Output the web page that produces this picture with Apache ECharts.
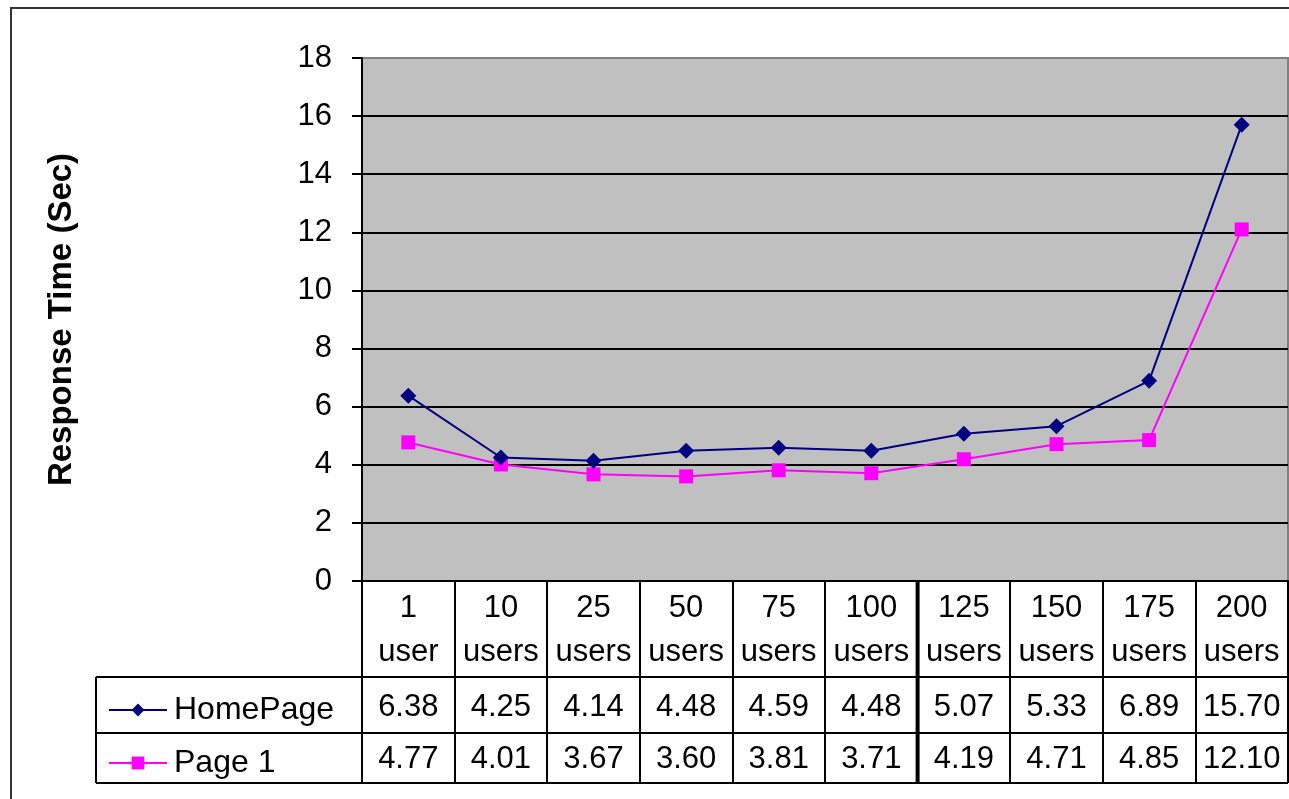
<!DOCTYPE html>
<html>
<head>
<meta charset="utf-8">
<title>Response Time</title>
<script src="https://cdn.jsdelivr.net/npm/echarts@6/dist/echarts.min.js"></script>
<style>
  html, body { margin: 0; padding: 0; background: #fff; }
  #chart { width: 1289px; height: 799px; }
</style>
</head>
<body>
<div id="chart"></div>
<script>
// Load levels (concurrent users)
const categories = ['1 user', '10 users', '25 users', '50 users', '75 users',
                    '100 users', '125 users', '150 users', '175 users', '200 users'];
// Average response time in seconds
const homePage = [6.38, 4.25, 4.14, 4.48, 4.59, 4.48, 5.07, 5.33, 6.89, 15.70];
const page1 = [4.77, 4.01, 3.67, 3.60, 3.81, 3.71, 4.19, 4.71, 4.85, 12.10];
const seriesNames = ['HomePage', 'Page 1'];
const yTicks = { min: 0, max: 18, step: 2 };

const FONT = 'Liberation Sans, Arial, sans-serif';
const chart = echarts.init(document.getElementById('chart'), null, { renderer: 'canvas' });

// Horizontal gridlines are black, the top edge of the plot is grey
const gridColors = [];
for (let v = yTicks.min; v <= yTicks.max; v += yTicks.step) {
  gridColors.push(v === yTicks.max ? '#808080' : '#000000');
}

const plotTop = 58, plotBottom = 581, tableBottom = 783;
const row1 = 677, row2 = 733, tableLeft = 96;

function valueAxis(values, offset) {
  return {
    type: 'category',
    gridIndex: 0,
    position: 'bottom',
    offset: offset,
    data: values.map(v => v.toFixed(2)),
    axisLine: { show: false },
    axisTick: { show: false },
    axisLabel: { interval: 0, margin: 8, fontSize: 31, fontFamily: FONT, color: '#000', lineHeight: 36 }
  };
}

chart.setOption({
  animation: false,
  backgroundColor: '#ffffff',
  grid: {
    left: 362, top: plotTop, right: 1, bottom: 799 - plotBottom,
    show: true, backgroundColor: '#c0c0c0', borderColor: '#808080', borderWidth: 2
  },
  legend: {
    orient: 'vertical',
    left: 103, top: 687,
    itemWidth: 58, itemHeight: 16, itemGap: 17,
    textStyle: { fontSize: 32, fontFamily: FONT, color: '#000', lineHeight: 36, padding: [0, 0, 0, 2] },
    data: seriesNames
  },
  xAxis: [
    {
      type: 'category',
      data: categories,
      boundaryGap: true,
      axisLine: { lineStyle: { color: '#000', width: 2 } },
      axisTick: { show: true, interval: 0, length: tableBottom - plotBottom, lineStyle: { color: '#000', width: 2 } },
      axisLabel: {
        interval: 0, margin: 5, fontSize: 31, fontFamily: FONT, color: '#000', lineHeight: 44,
        formatter: s => s.replace(' ', '\n')
      }
    },
    valueAxis(homePage, 100),
    valueAxis(page1, 152)
  ],
  yAxis: {
    type: 'value',
    min: yTicks.min, max: yTicks.max, interval: yTicks.step,
    name: 'Response Time (Sec)',
    nameLocation: 'middle',
    nameRotate: 90,
    nameGap: 284,
    nameTextStyle: { fontSize: 33, fontWeight: 'bold', fontFamily: FONT, color: '#000' },
    axisLine: { show: true, lineStyle: { color: '#000', width: 2 } },
    axisTick: { show: true, length: 10, lineStyle: { color: '#000', width: 2 } },
    axisLabel: { margin: 30, fontSize: 31, fontFamily: FONT, color: '#000' },
    splitLine: { show: true, lineStyle: { color: gridColors, width: 2 } }
  },
  series: [
    {
      name: seriesNames[0], type: 'line', data: homePage,
      symbol: 'diamond', symbolSize: 16,
      itemStyle: { color: '#000080' },
      lineStyle: { color: '#000080', width: 2 },
      z: 3
    },
    {
      name: seriesNames[1], type: 'line', data: page1,
      symbol: 'rect', symbolSize: 14,
      itemStyle: { color: '#ff00ff' },
      lineStyle: { color: '#ff00ff', width: 2 },
      z: 2
    }
  ]
});

// Data table frame below the plot
const xLeft = chart.convertToPixel({ xAxisIndex: 0 }, 0);
const xNext = chart.convertToPixel({ xAxisIndex: 0 }, 1);
const colW = xNext - xLeft;
const right = chart.convertToPixel({ xAxisIndex: 0 }, categories.length - 1) + colW / 2;
const split = (chart.convertToPixel({ xAxisIndex: 0 }, 5) + chart.convertToPixel({ xAxisIndex: 0 }, 6)) / 2;
const lineStyle = { stroke: '#000', lineWidth: 2 };

chart.setOption({
  graphic: [
    { type: 'rect', shape: { x: 11, y: 8, width: 1300, height: 830 }, style: { fill: 'none', stroke: '#333', lineWidth: 2 }, silent: true },
    { type: 'line', shape: { x1: tableLeft, y1: row1, x2: right, y2: row1 }, style: lineStyle },
    { type: 'line', shape: { x1: tableLeft, y1: row2, x2: right, y2: row2 }, style: lineStyle },
    { type: 'line', shape: { x1: tableLeft, y1: tableBottom, x2: right, y2: tableBottom }, style: lineStyle },
    { type: 'line', shape: { x1: tableLeft, y1: row1, x2: tableLeft, y2: tableBottom }, style: lineStyle },
    { type: 'line', shape: { x1: split, y1: plotBottom, x2: split, y2: tableBottom }, style: { stroke: '#000', lineWidth: 4 } }
  ]
});
</script>
</body>
</html>
